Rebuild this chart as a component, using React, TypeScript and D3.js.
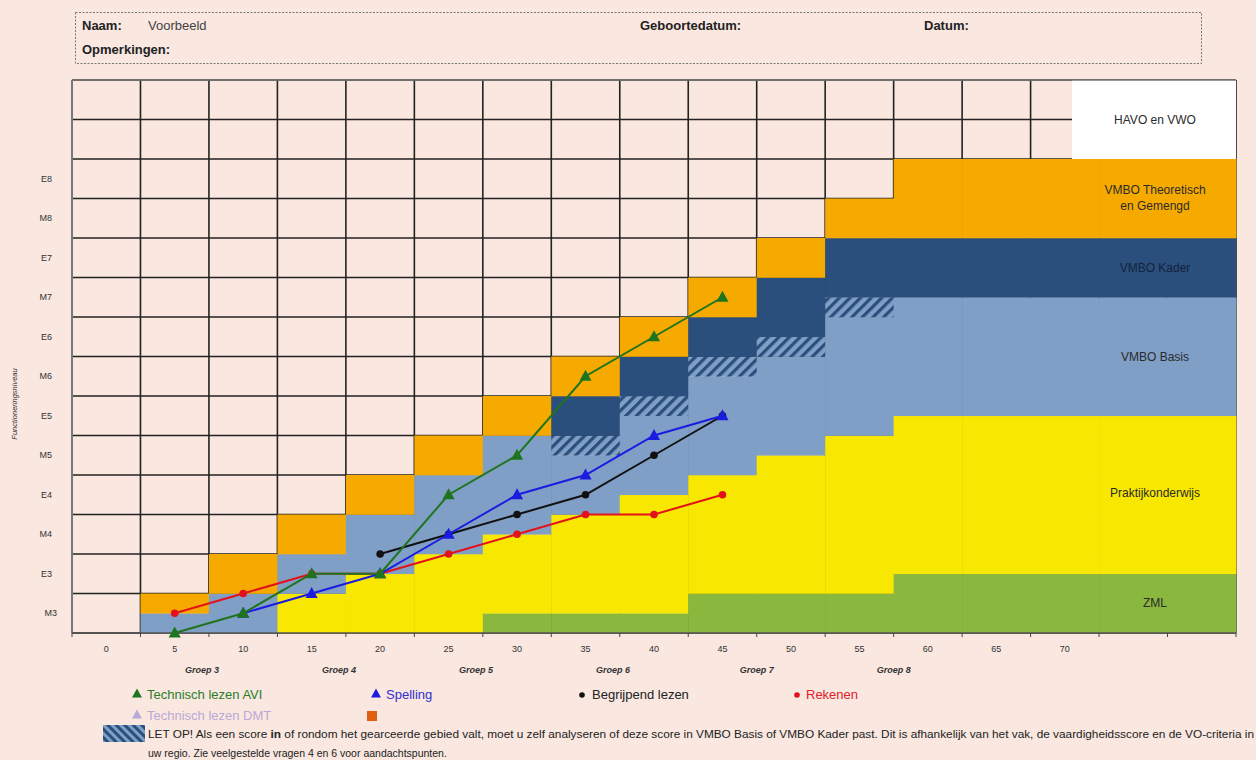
import React from "react";
import * as d3 from "d3";

// levels on the y axis (index 0 = M3)
const levels = ["M3", "E3", "M4", "E4", "M5", "E5", "M6", "E6", "M7", "E7", "M8", "E8"];
// score columns on the x axis
const columns = [0, 5, 10, 15, 20, 25, 30, 35, 40, 45, 50, 55, 60, 65, 70, 75, 80];
const tickLabels = ["0", "5", "10", "15", "20", "25", "30", "35", "40", "45", "50", "55", "60", "65", "70"];
const groups = ["Groep 3", "Groep 4", "Groep 5", "Groep 6", "Groep 7", "Groep 8"];
const groupAt = [7, 17, 27, 37, 47.5, 57.5];

// top of each zone per column, in rows (0 = bottom of M3)
const zmlTop = [0, 0, 0, 0, 0, 0, 0.5, 0.5, 0.5, 1, 1, 1, 1.5, 1.5, 1.5, 1.5, 1.5];
const praktijkTop = [0, 0, 0, 1, 1.5, 2, 2.5, 3, 3.5, 4, 4.5, 5, 5.5, 5.5, 5.5, 5.5, 5.5];
const basisTop = [0, 0.5, 1, 2, 3, 4, 5, 4.5, 5.5, 6.5, 7, 8, 8.5, 8.5, 8.5, 8.5, 8.5];
const hatchTop = [0, 0.5, 1, 2, 3, 4, 5, 5, 6, 7, 7.5, 8.5, 8.5, 8.5, 8.5, 8.5, 8.5];
const kaderTop = [0, 0.5, 1, 2, 3, 4, 5, 6, 7, 8, 9, 10, 10, 10, 10, 10, 10];
const theoTop = [0, 1, 2, 3, 4, 5, 6, 7, 8, 9, 10, 11, 12, 12, 12, 12, 12];

// scores (level index, M3 = 0)
const aviX = [5, 10, 15, 20, 25, 30, 35, 40, 45];
const aviY = [-0.5, 0, 1, 1, 3, 4, 6, 7, 8];
const spellingX = [10, 15, 20, 25, 30, 35, 40, 45];
const spellingY = [0, 0.5, 1, 2, 3, 3.5, 4.5, 5];
const begrijpendX = [20, 25, 30, 35, 40, 45];
const begrijpendY = [1.5, 2, 2.5, 3, 4, 5];
const rekenenX = [5, 10, 15, 20, 25, 30, 35, 40, 45];
const rekenenY = [0, 0.5, 1, 1, 1.5, 2, 2.5, 2.5, 3];

const BG = "#f9e7e0";
const ORANGE = "#f6aa00";
const KADER = "#2a4f7c";
const BASIS = "#809fc7";
const YELLOW = "#f8e700";
const GREEN = "#8ab83f";

const font = "'Liberation Sans', Arial, sans-serif";

export default function App() {
  const x = d3.scaleLinear().domain([-2.5, 82.5]).range([72, 1236]);
  const y = d3.scaleLinear().domain([0, 14]).range([633, 80]);
  const colW = x(5) - x(0);
  const lvl = (v: number) => y(v + 0.5);

  const zones = [
    { tops: theoTop, fill: ORANGE },
    { tops: kaderTop, fill: KADER },
    { tops: hatchTop, fill: "url(#hatch)" },
    { tops: basisTop, fill: BASIS },
    { tops: praktijkTop, fill: YELLOW },
    { tops: zmlTop, fill: GREEN },
  ];

  const line = d3
    .line<[number, number]>()
    .x((d) => x(d[0]))
    .y((d) => lvl(d[1]));

  const series = [
    { xs: aviX, ys: aviY, color: "#1f741f", marker: "tri" },
    { xs: rekenenX, ys: rekenenY, color: "#e3121a", marker: "dot" },
    { xs: begrijpendX, ys: begrijpendY, color: "#111111", marker: "dot" },
    { xs: spellingX, ys: spellingY, color: "#1c1ce0", marker: "tri" },
  ];
  // draw order so green sits on top like the reference
  const drawOrder = [series[1], series[2], series[3], series[0]];

  const tri = (cx: number, cy: number, s: number) =>
    `M${cx},${cy - s * 0.6}L${cx + s * 0.55},${cy + s * 0.4}L${cx - s * 0.55},${cy + s * 0.4}Z`;

  const hLines = d3.range(0, 15);
  const vLines = d3.range(0, columns.length + 1);

  return (
    <svg
      width={1256}
      height={760}
      style={{ position: "absolute", left: 0, top: 0, background: BG }}
      fontFamily={font}
    >
      <defs>
        <pattern id="hatch" patternUnits="userSpaceOnUse" width={7.5} height={7.5} patternTransform="rotate(45)">
          <rect width={7.5} height={7.5} fill={BASIS} />
          <rect width={3.2} height={7.5} fill={KADER} />
        </pattern>
        <pattern id="hatchL" patternUnits="userSpaceOnUse" width={6} height={6} patternTransform="rotate(-45)">
          <rect width={6} height={6} fill={BASIS} />
          <rect width={3} height={6} fill={KADER} />
        </pattern>
      </defs>
      <rect width={1256} height={760} fill={BG} />

      {/* header box */}
      <rect x={75.5} y={12.5} width={1126} height={51} fill="none" stroke="#777" strokeDasharray="2,1.5" />
      <g fontSize={13} fill="#222">
        <text x={82} y={30} fontWeight="bold">Naam:</text>
        <text x={148} y={30} fill="#444">Voorbeeld</text>
        <text x={82} y={54} fontWeight="bold">Opmerkingen:</text>
        <text x={640} y={30} fontWeight="bold">Geboortedatum:</text>
        <text x={924} y={30} fontWeight="bold">Datum:</text>
      </g>

      {/* grid */}
      <g stroke="#222" strokeWidth={1.6}>
        {hLines.map((h) => (
          <line key={"h" + h} x1={x(-2.5)} x2={x(82.5)} y1={y(h)} y2={y(h)} />
        ))}
        {vLines.map((i) => (
          <line key={"v" + i} x1={x(-2.5 + 5 * i)} x2={x(-2.5 + 5 * i)} y1={y(0)} y2={y(14)} />
        ))}
      </g>

      {/* zones */}
      {columns.map((c, i) => {
        let prev = 0;
        const rects = zones
          .slice()
          .reverse()
          .map((z, k) => {
            const top = z.tops[i];
            const bottom = prev;
            prev = Math.max(prev, top);
            if (top <= bottom) return null;
            return (
              <rect
                key={k}
                x={x(c - 2.5)}
                width={colW + 0.5}
                y={y(top)}
                height={y(bottom) - y(top) + 0.3}
                fill={z.fill}
              />
            );
          });
        return <g key={c}>{rects}</g>;
      })}

      {/* HAVO box */}
      <rect x={1072} y={y(14)} width={x(82.5) - 1072} height={y(12) - y(14)} fill="#ffffff" />
      <line x1={72} x2={1236} y1={y(14)} y2={y(14)} stroke="#777" strokeWidth={1.4} />
      <line x1={72} x2={72} y1={y(0)} y2={y(14)} stroke="#777" strokeWidth={2} />

      {/* zone labels */}
      <g fontSize={12} textAnchor="middle" fill="#2a2a2a">
        <text x={1155} y={y(13) + 4}>HAVO en VWO</text>
        <text x={1155} y={y(11) - 5}>VMBO Theoretisch</text>
        <text x={1155} y={y(11) + 11}>en Gemengd</text>
        <text x={1155} y={y(9.25) + 4} fill="#14233d">VMBO Kader</text>
        <text x={1155} y={y(7) + 4}>VMBO Basis</text>
        <text x={1155} y={y(3.5) + 2}>Praktijkonderwijs</text>
        <text x={1155} y={y(0.75) + 4}>ZML</text>
      </g>

      {/* x axis */}
      <line x1={x(-2.5)} x2={x(82.5)} y1={y(0)} y2={y(0)} stroke="#555" strokeWidth={1.5} />
      {vLines.map((i) => (
        <line key={"t" + i} x1={x(-2.5 + 5 * i)} x2={x(-2.5 + 5 * i)} y1={y(0)} y2={y(0) + 4} stroke="#444" />
      ))}
      <g fontSize={9} fill="#333" textAnchor="middle">
        {tickLabels.map((t, i) => (
          <text key={t} x={x(columns[i])} y={652}>{t}</text>
        ))}
      </g>
      <g fontSize={9} fill="#333" textAnchor="middle" fontStyle="italic" fontWeight="bold">
        {groups.map((g, i) => (
          <text key={g} x={x(groupAt[i])} y={673}>{g}</text>
        ))}
      </g>

      {/* y axis */}
      <g fontSize={9} fill="#333" textAnchor="end">
        {levels.map((l, i) => (
          <text key={l} x={i === 0 ? 57 : 52} y={lvl(i) + 3}>{l}</text>
        ))}
      </g>
      <text
        transform={`translate(17,404) rotate(-90)`}
        fontSize={7.5}
        fontStyle="italic"
        textAnchor="middle"
        fill="#333"
      >
        Functioneringsniveau
      </text>

      {/* series */}
      {drawOrder.map((s, si) => {
        const pts: [number, number][] = s.xs.map((v, i) => [v, s.ys[i]]);
        return (
          <g key={si}>
            <path d={line(pts) || ""} fill="none" stroke={s.color} strokeWidth={2} />
            {pts.map((p, i) =>
              s.marker === "tri" ? (
                <path key={i} d={tri(x(p[0]), lvl(p[1]), 11)} fill={s.color} />
              ) : (
                <circle key={i} cx={x(p[0])} cy={lvl(p[1])} r={3.8} fill={s.color} />
              )
            )}
          </g>
        );
      })}

      {/* legend */}
      <g fontSize={13}>
        <path d={tri(137, 694, 9)} fill="#1f741f" />
        <text x={147} y={699} fill="#2b7d2b">Technisch lezen AVI</text>
        <path d={tri(376, 694, 9)} fill="#1c1ce0" />
        <text x={386} y={699} fill="#3030d0">Spelling</text>
        <circle cx={582} cy={695} r={2.8} fill="#111" />
        <text x={592} y={699} fill="#222">Begrijpend lezen</text>
        <circle cx={797} cy={695} r={2.8} fill="#e3121a" />
        <text x={806} y={699} fill="#e0202a">Rekenen</text>
        <path d={tri(137, 715, 9)} fill="#b9a9d6" />
        <text x={147} y={720} fill="#b9a9d6">Technisch lezen DMT</text>
        <rect x={367} y={711} width={10} height={10} fill="#e0600f" />
      </g>
      <rect x={103} y={725} width={42} height={17} fill="url(#hatchL)" />
      <g fontSize={10.5} fill="#222">
        <text x={148} y={738} textLength={1106} lengthAdjust="spacingAndGlyphs">
          LET OP! Als een score <tspan fontWeight="bold">in</tspan> of rondom het gearceerde gebied valt, moet u zelf analyseren of deze score in VMBO Basis of VMBO Kader past. Dit is afhankelijk van het vak, de vaardigheidsscore en de VO-criteria in
        </text>
        <text x={148} y={757}>uw regio. Zie veelgestelde vragen 4 en 6 voor aandachtspunten.</text>
      </g>
    </svg>
  );
}
